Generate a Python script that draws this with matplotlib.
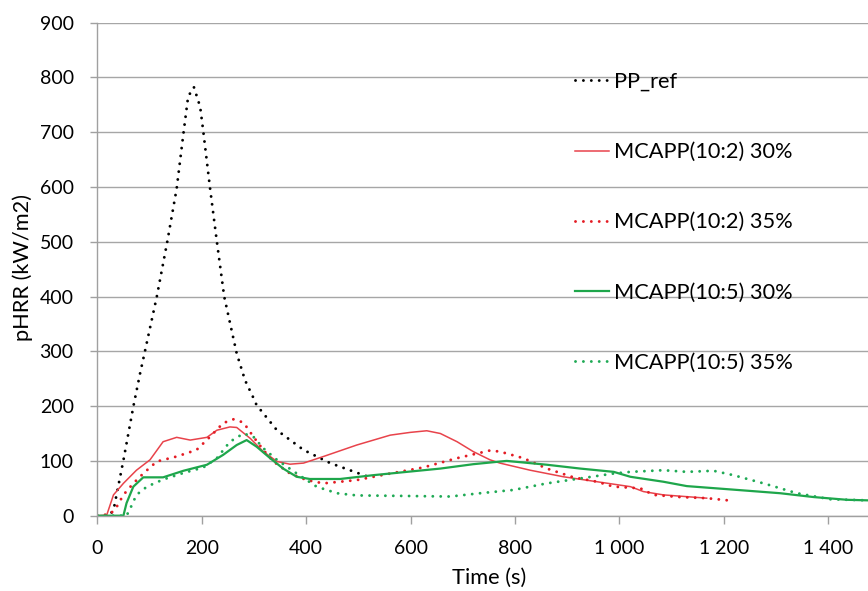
import matplotlib
matplotlib.use("Agg")
import matplotlib.pyplot as plt
from matplotlib.ticker import FuncFormatter, MultipleLocator

plt.rcParams['font.family'] = ['Lato', 'DejaVu Sans']

labels = ["PP_ref", "MCAPP(10:2) 30%", "MCAPP(10:2) 35%", "MCAPP(10:5) 30%", "MCAPP(10:5) 35%"]

pp_t = [0, 22, 31, 50, 69, 82, 91, 114, 134, 152, 165, 174, 185, 197, 203, 216, 229, 243, 267, 283, 298, 305, 344, 395, 446, 510, 522]
pp_v = [0, 0, 10, 101, 199, 260, 299, 400, 500, 597, 698, 765, 782, 746, 701, 597, 500, 400, 296, 247, 217, 202, 156, 120, 96, 74, 70]

rs_t = [0, 18, 31, 50, 75, 101, 126, 152, 178, 210, 229, 254, 267, 293, 318, 344, 369, 395, 433, 497, 561, 599, 631, 657, 689, 720, 752, 771, 829, 893, 957, 1021, 1046, 1084, 1167]
rs_v = [0, 1, 38, 59, 83, 102, 135, 143, 138, 143, 156, 162, 161, 141, 117, 99, 94, 96, 108, 129, 147, 152, 155, 150, 135, 117, 102, 96, 83, 71, 62, 53, 44, 38, 32]

rd_t = [0, 25, 37, 50, 69, 88, 114, 152, 190, 216, 241, 261, 280, 299, 318, 337, 369, 401, 433, 497, 561, 624, 689, 752, 771, 816, 861, 912, 957, 989, 1040, 1065, 1116, 1167, 1218]
rd_v = [0, 3, 16, 38, 59, 77, 99, 108, 120, 144, 169, 176, 170, 144, 120, 99, 77, 65, 59, 65, 77, 88, 105, 119, 117, 105, 86, 70, 62, 53, 50, 38, 34, 32, 27]

gs_t = [0, 50, 56, 69, 88, 126, 165, 210, 241, 267, 286, 305, 331, 356, 382, 407, 465, 529, 593, 657, 720, 784, 861, 925, 989, 1021, 1084, 1129, 1212, 1308, 1372, 1436, 1476]
gs_v = [0, 0, 23, 53, 70, 70, 82, 93, 111, 129, 138, 126, 105, 86, 71, 67, 67, 74, 80, 86, 94, 100, 93, 86, 80, 71, 62, 54, 48, 41, 34, 29, 28]

gd_t = [0, 56, 63, 75, 95, 126, 165, 203, 229, 254, 280, 299, 318, 344, 382, 420, 459, 497, 593, 676, 733, 797, 861, 925, 989, 1021, 1084, 1129, 1180, 1218, 1276, 1340, 1404, 1476]
gd_v = [0, 0, 13, 38, 53, 66, 78, 88, 105, 135, 150, 144, 123, 102, 77, 53, 41, 37, 36, 35, 41, 47, 59, 68, 77, 80, 83, 80, 82, 74, 59, 41, 30, 28]

W, H = 868, 591
x0, y0, y900 = 97.3, 515.7, 22.5
fig = plt.figure(figsize=(W / 100, H / 100), dpi=100)
ax = fig.add_axes([x0 / W, 1 - y0 / H, 1 - x0 / W, (y0 - y900) / H])
aw, ah = W - x0, y0 - y900

dot = (0, (0.01, 2.7))
ax.plot(pp_t, pp_v, color='black', lw=2.1, linestyle=dot, dash_capstyle='round', label=labels[0])
ax.plot(rs_t, rs_v, color='#e8434b', lw=1.1, label=labels[1])
ax.plot(rd_t, rd_v, color='#e41c24', lw=2.1, linestyle=dot, dash_capstyle='round', label=labels[2])
ax.plot(gs_t, gs_v, color='#1ea64b', lw=1.6, label=labels[3])
ax.plot(gd_t, gd_v, color='#1faa55', lw=2.1, linestyle=dot, dash_capstyle='round', label=labels[4])

ax.set_xlim(0, 1476)
ax.set_ylim(0, 900)
ax.xaxis.set_major_locator(MultipleLocator(200))
ax.yaxis.set_major_locator(MultipleLocator(100))
ax.xaxis.set_major_formatter(FuncFormatter(lambda v, p: f"{int(v):,}".replace(",", " ")))

for s in ['top', 'right']:
    ax.spines[s].set_visible(False)
for s in ['left', 'bottom']:
    ax.spines[s].set_color('#a0a0a0')
    ax.spines[s].set_linewidth(1.0)
ax.grid(axis='y', color='#a6a6a6', lw=1.0)
ax.set_axisbelow(True)
ax.tick_params(axis='both', colors='#a0a0a0', labelcolor='black', labelsize=14, width=1, direction='out')
ax.tick_params(axis='y', length=5, pad=12)
ax.tick_params(axis='x', length=5.5, pad=12)

ax.set_xlabel("Time (s)", fontsize=15.7)
ax.xaxis.set_label_coords((489 - x0) / aw, (y0 - 568) / ah)
ax.set_ylabel("pHRR (kW/m2)", fontsize=15.7, va='center')
ax.yaxis.set_label_coords((23 - x0) / aw, (y0 - 268) / ah)

leg = ax.legend(loc='upper left', bbox_to_anchor=((575 - x0) / aw, (y0 - 72) / ah),
                frameon=False, fontsize=15.7, labelspacing=2.3, handlelength=1.55, handletextpad=0.25,
                borderaxespad=0, borderpad=0)

fig.savefig("out.png", dpi=100)
